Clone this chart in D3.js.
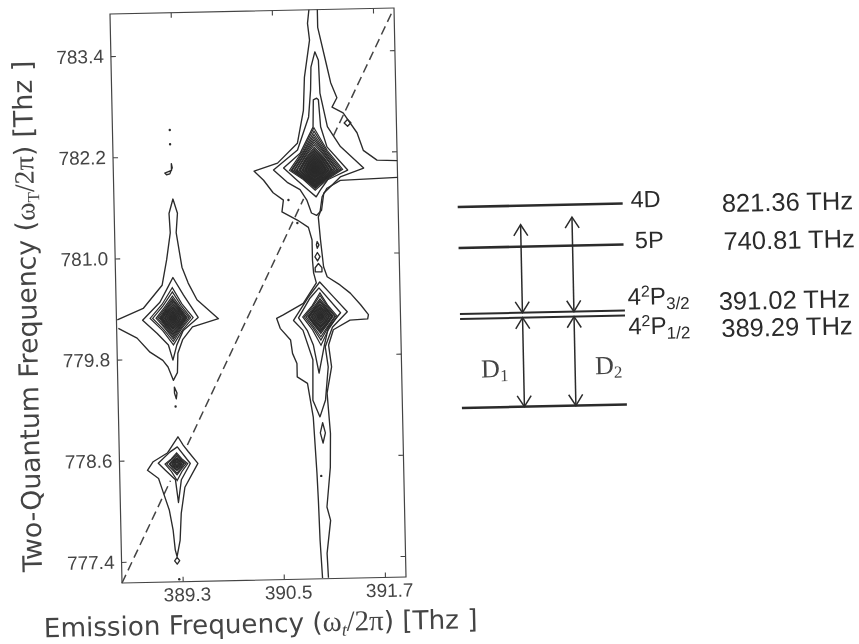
<!DOCTYPE html>
<html><head><meta charset="utf-8">
<script src="https://cdn.jsdelivr.net/npm/d3@7"></script>
<style>
html,body{margin:0;background:#fff}
svg{display:block;filter:blur(0.35px)}
</style></head><body>
<script>
// ---------- data: frequencies in THz ----------
const xDomain=[388.58,391.95], yDomain=[777.15,783.9];
const xTicks=[389.3,390.5,391.7];
const yTicks=[777.4,778.6,779.8,781.0,782.2,783.4];

const diagonalSegments=[
 [[388.58,777.15],[389.18,778.35]],
 [[389.39,778.77],[390.83,781.66]],
 [[391.20,782.40],[391.94,783.88]]
];

// traced open contours
const openContours=[
 [[390.94,783.90],[390.92,783.74],[390.94,783.54],[390.87,783.10],[390.85,782.71],[390.77,782.32],[390.53,782.09],[390.25,782.00],[390.36,781.89],[390.47,781.74],[390.59,781.65],[390.57,781.51],[390.75,781.41],[390.88,781.32],[390.92,781.17],[390.92,780.93],[390.93,780.78],[390.96,780.66],[390.80,780.42],[390.56,780.29],[390.48,780.25],[390.52,780.13],[390.64,779.99],[390.66,779.83],[390.71,779.71],[390.71,779.55],[390.83,779.47],[390.89,779.07],[390.92,778.40],[390.93,778.08],[390.94,777.61],[390.96,777.16]],
 [[391.04,783.90],[391.04,783.69],[391.14,783.22],[391.18,783.03],[391.25,782.85],[391.19,782.74],[391.32,782.67],[391.48,782.43],[391.55,782.22],[391.71,782.10],[391.95,782.09]],
 [[391.95,781.89],[391.27,781.87],[391.11,781.78],[391.05,781.68],[391.02,781.49],[391.00,781.44],[391.02,781.17],[391.05,780.85],[391.09,780.73],[391.24,780.63],[391.36,780.53],[391.48,780.39],[391.57,780.27],[391.56,780.22],[391.35,780.21],[391.15,780.10],[391.09,779.92],[391.12,779.66],[391.06,779.35],[391.09,778.87],[391.08,778.47],[391.03,778.00],[391.07,777.84],[391.02,777.45],[391.03,777.16]],
 [[388.59,780.27],[388.90,780.40],[389.13,780.67],[389.19,780.97],[389.24,781.29],[389.23,781.52],[389.28,781.69],[389.33,781.52],[389.31,781.29],[389.37,780.88],[389.44,780.69],[389.54,780.49],[389.79,780.26],[389.48,780.17],[389.36,780.02],[389.30,779.86],[389.29,779.63],[389.24,779.54],[389.18,779.70],[389.12,779.78],[388.97,779.88],[388.82,780.05],[388.60,780.17]]
];

// traced closed contours
const closedContours=[
 [[391.00,783.40],[390.95,783.22],[390.94,782.95],[390.91,782.63],[390.77,782.24],[390.48,782.01],[390.64,781.86],[390.79,781.77],[390.87,781.64],[390.92,781.49],[390.98,781.46],[391.04,781.52],[391.07,781.72],[391.27,781.91],[391.55,782.01],[391.28,782.27],[391.13,782.51],[391.05,782.91],[391.04,783.30]],
 [[391.01,782.85],[390.97,782.83],[390.96,782.51],[390.80,782.20],[390.60,782.03],[390.76,781.88],[390.89,781.76],[390.98,781.68],[391.03,781.76],[391.12,781.88],[391.36,781.99],[391.12,782.27],[391.05,782.51],[391.03,782.83]],
 [[389.26,780.76],[389.20,780.65],[389.10,780.47],[388.89,780.26],[389.06,780.10],[389.19,779.96],[389.24,779.78],[389.29,779.96],[389.37,780.13],[389.55,780.28],[389.38,780.55]],
 [[391.00,780.67],[391.16,780.49],[391.32,780.31],[391.14,780.13],[391.05,779.90],[391.08,779.66],[391.04,779.27],[390.97,779.07],[390.89,779.27],[390.90,779.75],[390.79,780.10],[390.68,780.22],[390.86,780.49]],
 [[390.99,780.60],[391.24,780.30],[391.09,780.12],[391.04,779.92],[390.97,779.59],[390.91,779.92],[390.84,780.10],[390.74,780.25],[390.88,780.48]],
 [[389.28,778.87],[389.15,778.68],[388.98,778.58],[388.91,778.48],[389.04,778.38],[389.09,778.22],[389.16,778.00],[389.20,777.76],[389.22,777.53],[389.24,777.45],[389.28,777.64],[389.30,777.96],[389.35,778.27],[389.51,778.55],[389.40,778.69],[389.34,778.77]],
 [[389.27,778.75],[389.42,778.55],[389.31,778.36],[389.27,778.09],[389.24,778.36],[389.12,778.48],[389.04,778.56],[389.18,778.69]],
 [[389.27,782.11],[389.27,782.03],[389.19,782.00],[389.21,781.98],[389.25,781.99],[389.28,782.06]],
 [[389.25,779.46],[389.28,779.39],[389.27,779.32],[389.25,779.39]],
 [[389.24,777.44],[389.27,777.40],[389.24,777.36],[389.21,777.40]],
 [[390.98,781.15],[391.00,781.11],[390.98,781.07],[390.97,781.11]],
 [[390.98,781.02],[391.01,780.97],[390.98,780.92],[390.95,780.97]],
 [[390.99,780.89],[391.03,780.84],[391.03,780.79],[390.95,780.79],[390.95,780.84]],
 [[391.00,779.00],[391.03,778.88],[391.00,778.76],[390.97,778.88]],
 [[391.37,782.59],[391.41,782.55],[391.37,782.51],[391.33,782.55]]
];

// isolated dots
const dots=[[389.26,782.51],[389.26,782.34],[389.26,779.23],[390.97,778.37],[390.65,781.65],[390.75,781.375],[389.26,777.18]];

// peak centres and nested contour half-extents [up,right,down,left]
const peakA=[390.97,782.00];
const ringsA=[[.50,.33,.24,.30],[.46,.31,.22,.28],[.42,.29,.21,.27],[.39,.27,.20,.25],[.36,.26,.19,.24],[.33,.24,.18,.22],[.30,.23,.18,.21],[.27,.21,.17,.19],[.25,.20,.16,.18],[.23,.19,.15,.17],[.21,.17,.14,.15],[.19,.16,.13,.14],[.17,.14,.12,.12],[.15,.13,.11,.11],[.13,.12,.09,.10],[.11,.10,.08,.08],[.09,.08,.07,.07],[.07,.06,.05,.05],[.05,.05,.04,.04],[.03,.03,.03,.03],[.015,.015,.015,.015]];
const peakB=[389.25,780.28];
const ringsB=[[.36,.24,.32,.27],[.31,.21,.28,.24],[.26,.19,.25,.20],[.23,.17,.23,.18],[.21,.16,.21,.16],[.19,.15,.19,.15],[.17,.14,.17,.14],[.15,.13,.15,.13],[.13,.12,.13,.12],[.12,.10,.12,.10],[.10,.09,.10,.09],[.08,.07,.08,.07],[.06,.05,.06,.05],[.04,.04,.04,.04],[.025,.025,.025,.025],[.01,.01,.01,.01]];
const peakC=[391.00,780.26];
const ringsC=[[.28,.20,.34,.21],[.25,.18,.28,.19],[.21,.17,.24,.17],[.19,.15,.20,.15],[.17,.14,.18,.14],[.15,.135,.165,.135],[.14,.13,.15,.13],[.12,.11,.13,.11],[.105,.10,.12,.10],[.09,.08,.11,.08],[.07,.06,.08,.06],[.05,.04,.05,.04],[.03,.03,.03,.03],[.015,.015,.015,.015]];
const peakD=[389.26,778.55];
const ringsD=[[.13,.13,.20,.14],[.11,.11,.13,.12],[.09,.09,.11,.09],[.07,.08,.08,.08],[.06,.06,.07,.06],[.05,.05,.05,.05],[.035,.035,.035,.035],[.02,.02,.02,.02]];

// energy levels (THz)
const levelValues=[0,389.29,391.02,740.81,821.36];
const arrowTransitions=[[0,389.29],[391.02,784],[0,389.29],[391.02,797]];

const levelLabels=["4D","5P"];
const freqLabels=["821.36 THz","740.81 THz","391.02 THz","389.29 THz"];

// ---------- drawing ----------
const W=859,H=644;
const svg=d3.select("body").append("svg").attr("width",W).attr("height",H);
svg.append("rect").attr("width",W).attr("height",H).attr("fill","#fff");
const ink="#2b2b2b", soft="#444";
const sans="'Liberation Sans',Arial,sans-serif", vera="'DejaVu Sans',sans-serif", serif="'Liberation Serif',serif";

const pw=284,ph=569;
const x=d3.scaleLinear().domain(xDomain).range([0,pw]);
const y=d3.scaleLinear().domain(yDomain).range([ph,0]);
const plot=svg.append("g").attr("transform","matrix(1,-0.0211,0.0211,1,110,14)");

// frame
plot.append("rect").attr("width",pw).attr("height",ph).attr("fill","none").attr("stroke",soft).attr("stroke-width",1.2);

// axes
const fmt=d3.format(".1f");
const axB=plot.append("g").attr("transform",`translate(0,${ph})`).call(d3.axisBottom(x).tickValues(xTicks).tickFormat(fmt).tickSizeInner(-5).tickSizeOuter(0).tickPadding(6));
axB.selectAll(".tick text").attr("dx",4);
const axL=plot.append("g").call(d3.axisLeft(y).tickValues(yTicks).tickFormat(fmt).tickSizeInner(-5).tickSizeOuter(0).tickPadding(7));
plot.append("g").call(d3.axisTop(x).tickValues(xTicks).tickFormat("").tickSizeInner(-5).tickSizeOuter(0));
plot.append("g").attr("transform",`translate(${pw},0)`).call(d3.axisRight(y).tickValues(yTicks).tickFormat("").tickSizeInner(-5).tickSizeOuter(0));
plot.selectAll(".domain").remove();
plot.selectAll(".tick line").attr("stroke",soft).attr("stroke-width",1.1);
plot.selectAll(".tick text").attr("font-family",sans).attr("font-size",19).attr("fill",soft);

// diagonal
const line=d3.line().x(d=>x(d[0])).y(d=>y(d[1]));
plot.selectAll("path.diag").data(diagonalSegments).join("path").attr("class","diag")
  .attr("d",line).attr("fill","none").attr("stroke",soft).attr("stroke-width",1.5).attr("stroke-dasharray","9 5");

// contours
const closed=d3.line().x(d=>x(d[0])).y(d=>y(d[1])).curve(d3.curveLinearClosed);
const cStyle=s=>s.attr("fill","none").attr("stroke",ink).attr("stroke-width",1.35).attr("stroke-linejoin","round");
plot.selectAll("path.open").data(openContours).join("path").attr("class","open").attr("d",line).call(cStyle);
plot.selectAll("path.closed").data(closedContours).join("path").attr("class","closed").attr("d",closed).call(cStyle);

const peaks=[[peakA,ringsA],[peakB,ringsB],[peakC,ringsC],[peakD,ringsD]];
peaks.forEach(([c,rings])=>{
  plot.append("g").selectAll("path").data(rings).join("path")
    .attr("d",(r,i)=>{
      const [u,ri,d,l]=r, p=0.46+0.22*i/rings.length;
      return closed([[c[0],c[1]+u],[c[0]+ri*p,c[1]+u*p],[c[0]+ri,c[1]],[c[0]+ri*p,c[1]-d*p],[c[0],c[1]-d],[c[0]-l*p,c[1]-d*p],[c[0]-l,c[1]],[c[0]-l*p,c[1]+u*p]]);
    }).attr("fill",(r,i)=>i>=rings.length*0.35?ink:"none").attr("fill-opacity",0.3).attr("stroke",ink).attr("stroke-width",1.2);
});
plot.selectAll("circle.dot").data(dots).join("circle").attr("class","dot")
  .attr("cx",d=>x(d[0])).attr("cy",d=>y(d[1])).attr("r",1.2).attr("fill",ink);

// axis titles
const xt=plot.append("text").attr("x",-79).attr("y",ph+52.5).attr("font-family",vera).attr("font-size",26.2).attr("fill",soft);
xt.append("tspan").text("Emission Frequency (");
xt.append("tspan").attr("font-family",serif).attr("font-size",29).text("ω");
xt.append("tspan").attr("font-family",serif).attr("font-style","italic").attr("font-size",18).attr("dy",5).text("t");
xt.append("tspan").attr("dy",-5).attr("font-family",serif).attr("font-size",29).text("/2π");
xt.append("tspan").text(") [Thz ]");

const yt=plot.append("text").attr("transform",`translate(-79.7,${ph-13}) rotate(-90)`).attr("font-family",vera).attr("font-size",26.7).attr("fill",soft);
yt.append("tspan").text("Two-Quantum Frequency (");
yt.append("tspan").attr("font-family",serif).attr("font-size",28).text("ω");
yt.append("tspan").attr("font-family",serif).attr("font-size",17).attr("dy",5).text("T");
yt.append("tspan").attr("dy",-5).attr("font-family",serif).attr("font-size",28).text("/2π");
yt.append("tspan").text(") [Thz ]");

// ---------- level diagram ----------
const ly=d3.scaleLinear().domain(levelValues).range([408,319,314,248,207]);
const dia=svg.append("g").attr("transform","rotate(-1.2 460 316)");
dia.selectAll("line.lv").data(levelValues).join("line").attr("class","lv")
  .attr("x1",460).attr("x2",625).attr("y1",d=>ly(d)).attr("y2",d=>ly(d))
  .attr("stroke",ink).attr("stroke-width",d=>(d>380&&d<400)?2:2.6);

const arrowX=[522.5,522.5,574,574];
arrowTransitions.forEach((t,i)=>{
  const ax=arrowX[i], y0=ly(t[0]), y1=ly(t[1]);
  dia.append("line").attr("x1",ax).attr("x2",ax).attr("y1",y0).attr("y2",y1).attr("stroke",ink).attr("stroke-width",1.5);
  [[y0,-1],[y1,1]].forEach(([yy,s])=>{
    dia.append("path").attr("d",`M${ax-7},${yy+s*11}L${ax},${yy}L${ax+7},${yy+s*11}`).attr("fill","none").attr("stroke",ink).attr("stroke-width",1.5);
  });
});

const tx=(s,xx,yy,size)=>dia.append("text").attr("x",xx).attr("y",yy).attr("font-family",sans).attr("font-size",size).attr("fill",ink).text(s);
tx(levelLabels[0],633,211,23.5);
tx(levelLabels[1],636.5,252,23.5);
tx(freqLabels[0],724,217.5,25.5);
tx(freqLabels[1],725,255.5,25.5);
tx(freqLabels[2],719,315.5,25.5);
tx(freqLabels[3],721,342.5,25.5);

function levelLab(xx,yy,sub){
  const t=dia.append("text").attr("x",xx).attr("y",yy).attr("font-family",sans).attr("font-size",24).attr("fill",ink);
  t.append("tspan").text("4");
  t.append("tspan").attr("font-size",16).attr("dy",-8).text("2");
  t.append("tspan").attr("dy",8).text("P");
  t.append("tspan").attr("font-size",17).attr("dy",5).text(sub);
}
levelLab(628,308.5,"3/2");
levelLab(628,338,"1/2");

function dLab(xx,yy,sub){
  const t=dia.append("text").attr("x",xx).attr("y",yy).attr("font-family",serif).attr("font-size",26).attr("fill",soft);
  t.append("tspan").text("D");
  t.append("tspan").attr("font-size",17).attr("dy",4).text(sub);
}
dLab(480,378,"1");
dLab(594,377,"2");
</script>
</body></html>
